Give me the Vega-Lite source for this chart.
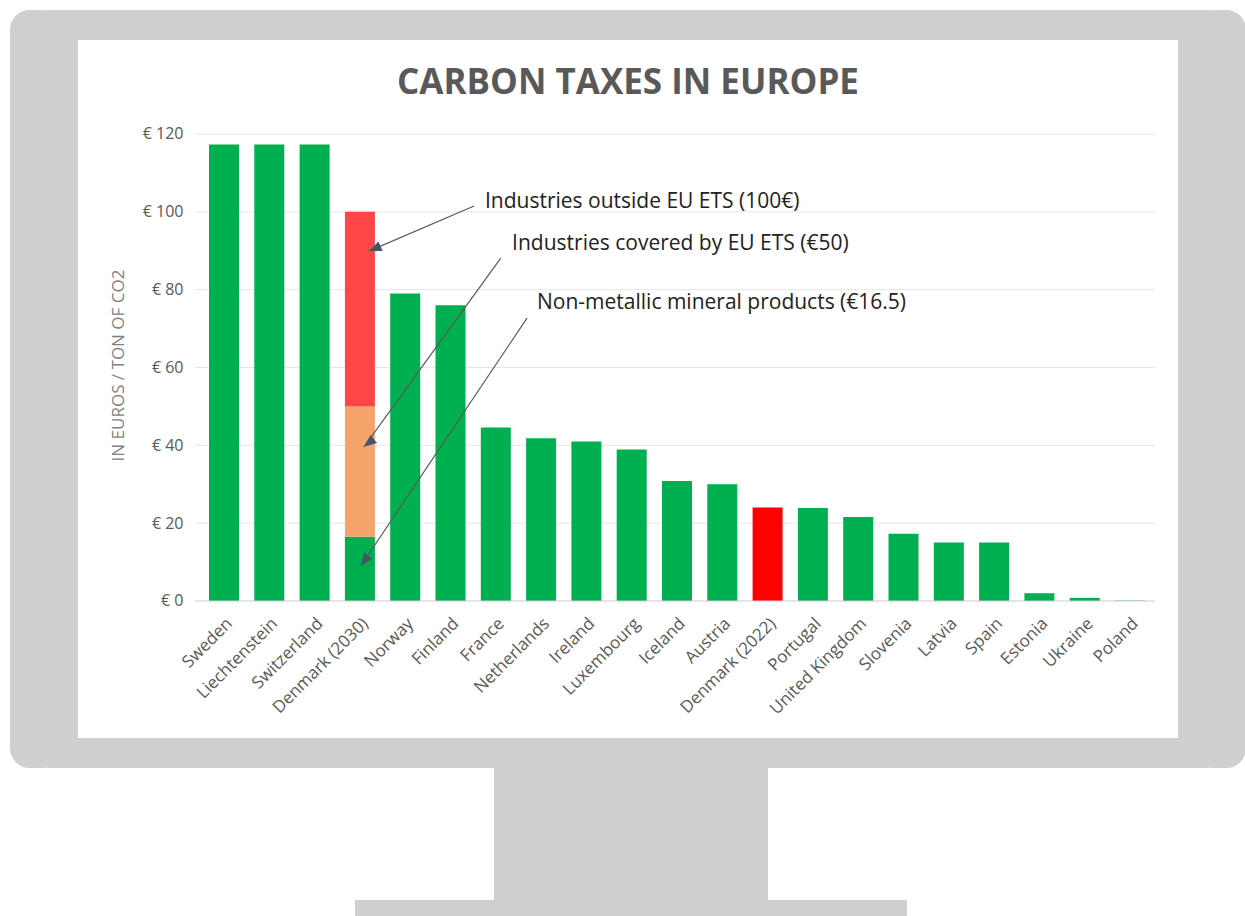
{
  "$schema": "https://vega.github.io/schema/vega-lite/v6.json",
  "background": "white",
  "padding": {"left": 10, "top": 10, "right": 0, "bottom": 0},
  "config": {"view": {"stroke": null}, "font": "Open Sans", "concat": {"spacing": 0}},
  "datasets": {
    "taxes": [
      {"country": "Sweden", "part": "Carbon tax", "tier": 1, "value": 117.3},
      {"country": "Liechtenstein", "part": "Carbon tax", "tier": 1, "value": 117.3},
      {"country": "Switzerland", "part": "Carbon tax", "tier": 1, "value": 117.3},
      {"country": "Denmark (2030)", "part": "Non-metallic mineral products", "tier": 1, "value": 16.5},
      {"country": "Denmark (2030)", "part": "Industries covered by EU ETS", "tier": 2, "value": 33.5},
      {"country": "Denmark (2030)", "part": "Industries outside EU ETS", "tier": 3, "value": 50},
      {"country": "Norway", "part": "Carbon tax", "tier": 1, "value": 79},
      {"country": "Finland", "part": "Carbon tax", "tier": 1, "value": 76},
      {"country": "France", "part": "Carbon tax", "tier": 1, "value": 44.6},
      {"country": "Netherlands", "part": "Carbon tax", "tier": 1, "value": 41.8},
      {"country": "Ireland", "part": "Carbon tax", "tier": 1, "value": 41},
      {"country": "Luxembourg", "part": "Carbon tax", "tier": 1, "value": 38.9},
      {"country": "Iceland", "part": "Carbon tax", "tier": 1, "value": 30.8},
      {"country": "Austria", "part": "Carbon tax", "tier": 1, "value": 30},
      {"country": "Denmark (2022)", "part": "Current tax", "tier": 1, "value": 24},
      {"country": "Portugal", "part": "Carbon tax", "tier": 1, "value": 23.9},
      {"country": "United Kingdom", "part": "Carbon tax", "tier": 1, "value": 21.6},
      {"country": "Slovenia", "part": "Carbon tax", "tier": 1, "value": 17.3},
      {"country": "Latvia", "part": "Carbon tax", "tier": 1, "value": 15},
      {"country": "Spain", "part": "Carbon tax", "tier": 1, "value": 15},
      {"country": "Estonia", "part": "Carbon tax", "tier": 1, "value": 2},
      {"country": "Ukraine", "part": "Carbon tax", "tier": 1, "value": 0.8},
      {"country": "Poland", "part": "Carbon tax", "tier": 1, "value": 0.1}
    ],
    "grid": [{"g": 20}, {"g": 40}, {"g": 60}, {"g": 80}, {"g": 100}, {"g": 120}],
    "base": [{"g": 0}],
    "notes": [
      {"label": "Industries outside EU ETS (100€)", "ti": 5.76, "tv": 102.5, "i1": 5.52, "v1": 101.5, "i2": 3.2, "v2": 89.9},
      {"label": "Industries covered by EU ETS (€50)", "ti": 6.36, "tv": 91.7, "i1": 6.11, "v1": 88.1, "i2": 3.09, "v2": 39.6},
      {"label": "Non-metallic mineral products (€16.5)", "ti": 6.91, "tv": 76.6, "i1": 6.69, "v1": 72.7, "i2": 3.02, "v2": 9.0}
    ]
  },
  "spacing": 0,
  "vconcat": [
    {
      "spacing": -20,
      "hconcat": [
        {"width": 23, "height": 728, "view": {"fill": "#cfcfcf", "stroke": "#cfcfcf", "strokeWidth": 30, "cornerRadius": 5}, "data": {"values": []}, "mark": "point"},
        {
          "width": 1130,
          "height": 728,
          "view": {"fill": "white", "stroke": "#cfcfcf", "strokeWidth": 30},
          "title": {"text": "CARBON TAXES IN EUROPE", "font": "Open Sans", "fontSize": 35, "fontWeight": "bold", "color": "#595959", "anchor": "middle", "frame": "group", "offset": -104, "baseline": "alphabetic"},
          "resolve": {"scale": {"x": "independent", "y": "independent"}, "axis": {"x": "independent", "y": "independent"}},
          "layer": [
            {
              "data": {"name": "grid"},
              "mark": {"type": "rule", "color": "#e6e6e6", "strokeWidth": 1},
              "encoding": {
                "x": {"datum": -0.64, "type": "quantitative", "scale": {"domain": [-3.554, 21.391], "nice": false, "zero": false}, "axis": null},
                "x2": {"datum": 20.55},
                "y": {"field": "g", "type": "quantitative", "scale": {"domain": [-39.06, 148.0], "nice": false, "zero": false}, "axis": null}
              }
            },
            {
              "data": {"name": "taxes"},
              "mark": {"type": "bar"},
              "encoding": {
                "x": {
                  "field": "country", "type": "nominal", "sort": null,
                  "scale": {"range": [123.35, 1104.65], "paddingInner": 0.3377, "paddingOuter": 0.5, "align": 0.5},
                  "axis": {"offset": -152, "labelAngle": -45, "ticks": false, "domain": false, "grid": false, "labelFontSize": 17, "labelColor": "#595959", "labelPadding": 14, "title": null, "labelFont": "Open Sans"}
                },
                "y": {
                  "field": "value", "type": "quantitative", "stack": "zero",
                  "scale": {"domain": [-39.06, 148.0], "nice": false, "zero": false},
                  "axis": {"values": [0, 20, 40, 60, 80, 100, 120], "offset": -132, "grid": false, "ticks": false, "tickSize": 0, "domain": false, "labelExpr": "'€ ' + datum.value", "labelFontSize": 16, "labelColor": "#595959", "labelPadding": 12, "labelFont": "Open Sans", "title": "IN EUROS / TON OF CO2", "titleFontSize": 17, "titleFontWeight": "normal", "titleColor": "#7f7f7f", "titleFont": "Open Sans", "titleX": -77, "titleY": 340, "titleAngle": -90, "titleBaseline": "middle", "titleAlign": "center"}
                },
                "color": {
                  "field": "part", "type": "nominal",
                  "scale": {"domain": ["Carbon tax", "Non-metallic mineral products", "Industries covered by EU ETS", "Industries outside EU ETS", "Current tax"], "range": ["#00b050", "#00b050", "#f4a36b", "#ff4545", "#ff0000"]},
                  "legend": null
                },
                "order": {"field": "tier", "type": "quantitative"}
              }
            },
            {
              "data": {"name": "base"},
              "mark": {"type": "rule", "color": "#cccccc", "strokeWidth": 1},
              "encoding": {
                "x": {"datum": -0.64, "type": "quantitative", "scale": {"domain": [-3.554, 21.391], "nice": false, "zero": false}, "axis": null},
                "x2": {"datum": 20.55},
                "y": {"field": "g", "type": "quantitative", "scale": {"domain": [-39.06, 148.0], "nice": false, "zero": false}, "axis": null}
              }
            },
            {
              "data": {"name": "notes"},
              "mark": {"type": "rule", "color": "#5a5a5a", "strokeWidth": 1.2},
              "encoding": {
                "x": {"field": "i1", "type": "quantitative", "scale": {"domain": [-3.554, 21.391], "nice": false, "zero": false}, "axis": null},
                "x2": {"field": "i2"},
                "y": {"field": "v1", "type": "quantitative", "scale": {"domain": [-39.06, 148.0], "nice": false, "zero": false}, "axis": null},
                "y2": {"field": "v2"}
              }
            },
            {
              "data": {"name": "notes"},
              "mark": {"type": "point", "shape": "M0,0L0.7,1.7L-0.7,1.7Z", "filled": true, "size": 220, "color": "#44546a", "opacity": 1},
              "encoding": {
                "x": {"field": "i2", "type": "quantitative", "scale": {"domain": [-3.554, 21.391], "nice": false, "zero": false}, "axis": null},
                "y": {"field": "v2", "type": "quantitative", "scale": {"domain": [-39.06, 148.0], "nice": false, "zero": false}, "axis": null},
                "angle": {"field": "label", "type": "nominal", "scale": {"domain": ["Industries outside EU ETS (100€)", "Industries covered by EU ETS (€50)", "Non-metallic mineral products (€16.5)"], "range": [246.8, 216, 213.8]}, "legend": null}
              }
            },
            {
              "data": {"name": "notes"},
              "mark": {"type": "text", "align": "left", "baseline": "middle", "fontSize": 21, "color": "#222222", "font": "Open Sans"},
              "encoding": {
                "x": {"field": "ti", "type": "quantitative", "scale": {"domain": [-3.554, 21.391], "nice": false, "zero": false}, "axis": null},
                "y": {"field": "tv", "type": "quantitative", "scale": {"domain": [-39.06, 148.0], "nice": false, "zero": false}, "axis": null},
                "text": {"field": "label"}
              }
            }
          ]
        },
        {"width": 23, "height": 728, "view": {"fill": "#cfcfcf", "stroke": "#cfcfcf", "strokeWidth": 30, "cornerRadius": 5}, "data": {"values": []}, "mark": "point"}
      ]
    },
    {
      "spacing": 0,
      "hconcat": [
        {"width": 469, "height": 132, "view": {"fill": null, "stroke": null}, "data": {"values": []}, "mark": "point"},
        {"width": 274, "height": 132, "view": {"fill": "#cfcfcf", "stroke": null}, "data": {"values": []}, "mark": "point"}
      ]
    },
    {
      "spacing": 0,
      "hconcat": [
        {"width": 330, "height": 20, "view": {"fill": null, "stroke": null}, "data": {"values": []}, "mark": "point"},
        {"width": 552, "height": 20, "view": {"fill": "#cfcfcf", "stroke": null}, "data": {"values": []}, "mark": "point"}
      ]
    }
  ]
}
